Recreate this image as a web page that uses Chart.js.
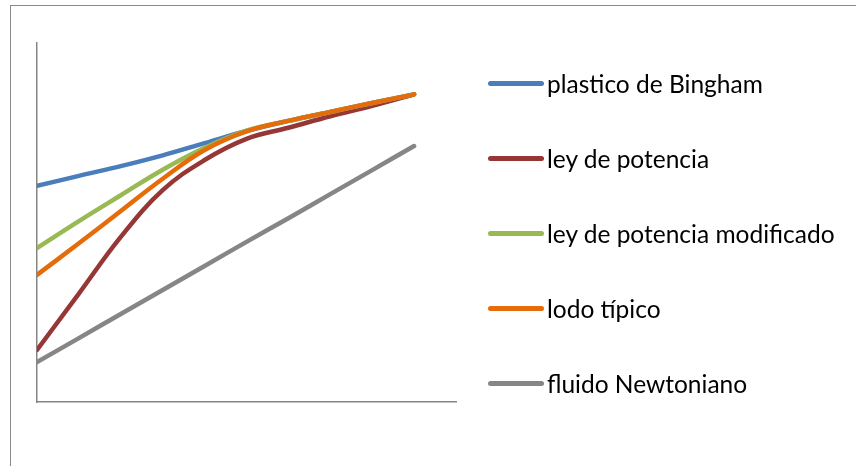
<!DOCTYPE html>
<html>
<head>
<meta charset="utf-8">
<script src="https://cdn.jsdelivr.net/npm/chart.js@4"></script>
<style>
  body { margin: 0; background: #fff; overflow: hidden; }
  #wrap { position: relative; width: 856px; height: 466px; overflow: hidden; }
  #frame { position: absolute; left: 10px; top: 5px; width: 900px; height: 520px; border: 1.5px solid #8a8a8a; }
  #chart { position: absolute; left: 0; top: 0; }
  .item { position: absolute; left: 488px; height: 24px; font-family: Lato, sans-serif; font-size: 24.5px; color: #000; white-space: nowrap; }
  .item span.swatch { position: absolute; left: 0; top: 9px; width: 56px; height: 5px; border-radius: 3px; }
  .item span.txt { position: absolute; left: 59px; top: 0; line-height: 24px; }
</style>
</head>
<body>
<div id="wrap">
  <div id="frame"></div>
  <canvas id="chart" width="856" height="466"></canvas>
  <div id="legend"></div>
</div>
<script>
// x positions of the points (hidden axis, 0..10)
const xValues = [0, 1, 2, 3, 4, 5, 6, 7, 8, 9];

const seriesNames = [
  'plastico de Bingham',
  'ley de potencia',
  'ley de potencia modificado',
  'lodo típico',
  'fluido Newtoniano',
];

const bingham = [6.02, 6.30, 6.57, 6.87, 7.21, 7.55, 7.83, 8.08, 8.33, 8.57];
const leyPotencia = [1.45, 3.02, 4.60, 5.90, 6.74, 7.33, 7.64, 7.96, 8.25, 8.57];
const leyModificado = [4.29, 5.04, 5.76, 6.47, 7.08, 7.56, 7.83, 8.08, 8.33, 8.57];
const lodoTipico = [3.54, 4.42, 5.32, 6.22, 7.02, 7.54, 7.83, 8.08, 8.33, 8.57];
const newtoniano = [1.11, 1.78, 2.45, 3.12, 3.79, 4.46, 5.12, 5.79, 6.46, 7.13];

const colors = ['#4a7ebb', '#953735', '#98b954', '#e46c0a', '#868686'];

const allSeries = [bingham, leyPotencia, leyModificado, lodoTipico, newtoniano];

// draw order: newtoniano bottom, orange on top
const drawOrder = [4, 1, 0, 2, 3];

const datasets = allSeries.map((vals, i) => ({
  label: seriesNames[i],
  data: vals.map((v, j) => ({ x: xValues[j], y: v })),
  borderColor: colors[i],
  backgroundColor: colors[i],
  borderWidth: 4.5,
  borderCapStyle: 'round',
  pointRadius: 0,
  tension: 0.4,
  fill: false,
  order: drawOrder.length - drawOrder.indexOf(i),
}));

new Chart(document.getElementById('chart'), {
  type: 'line',
  data: { datasets },
  options: {
    responsive: false,
    animation: false,
    layout: { padding: { left: 37, top: 43, right: 400, bottom: 64 } },
    plugins: { legend: { display: false }, tooltip: { enabled: false } },
    scales: {
      x: {
        type: 'linear', min: 0, max: 10,
        ticks: { display: false },
        grid: { display: false, drawTicks: false },
        border: { display: true, color: '#868686', width: 1.5 },
      },
      y: {
        min: 0, max: 10,
        ticks: { display: false },
        grid: { display: false, drawTicks: false },
        border: { display: true, color: '#868686', width: 1.5 },
      },
    },
  },
});

// legend on the right, one line sample per series
const legendTops = [72, 147, 222, 297, 372];
const legend = document.getElementById('legend');
seriesNames.forEach((name, i) => {
  const item = document.createElement('div');
  item.className = 'item';
  item.style.top = legendTops[i] + 'px';
  item.innerHTML = '<span class="swatch" style="background:' + colors[i] + '"></span><span class="txt"></span>';
  item.querySelector('.txt').textContent = name;
  legend.appendChild(item);
});
</script>
</body>
</html>
